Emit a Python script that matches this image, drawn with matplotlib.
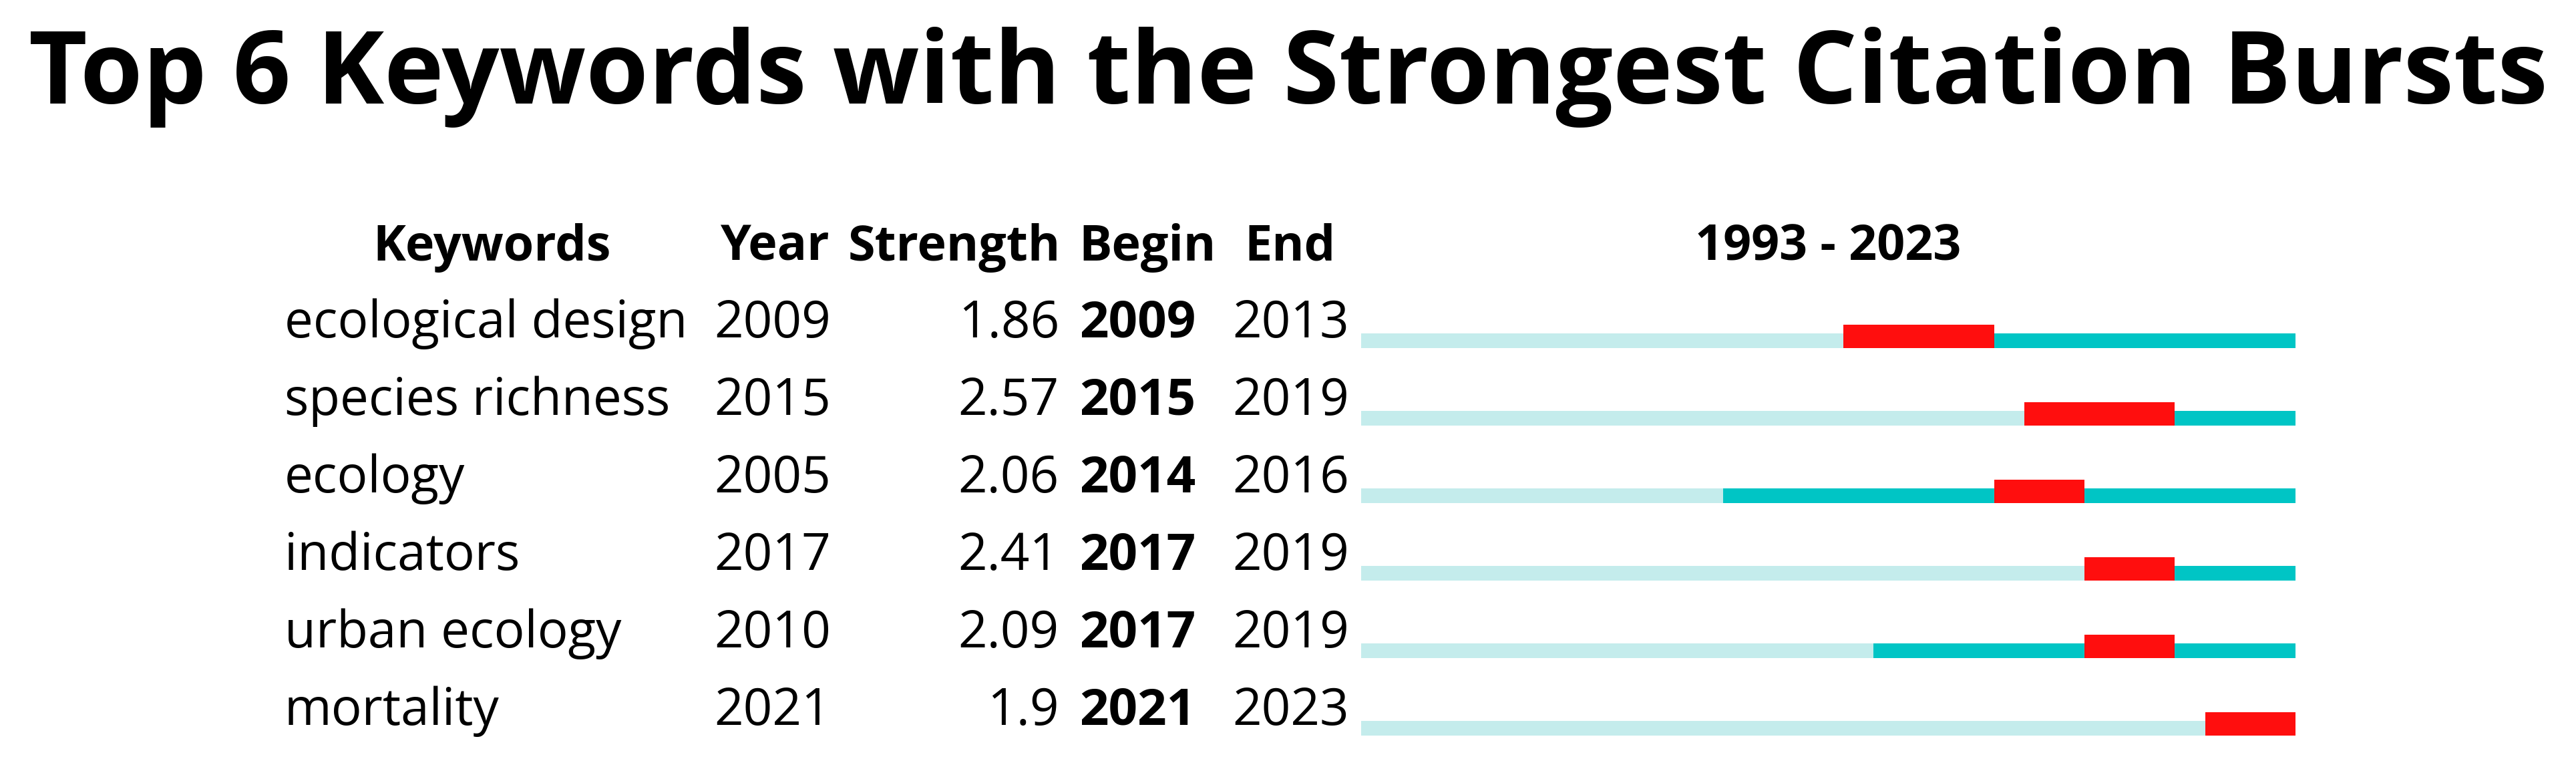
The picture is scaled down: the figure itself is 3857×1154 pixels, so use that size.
import matplotlib
matplotlib.use('Agg')
import matplotlib.pyplot as plt
from matplotlib.transforms import blended_transform_factory

plt.rcParams['font.family'] = ['Open Sans', 'Noto Sans', 'DejaVu Sans']

keywords = ['ecological design', 'species richness', 'ecology',
            'indicators', 'urban ecology', 'mortality']
year = [2009, 2015, 2005, 2017, 2010, 2021]
strength = [1.86, 2.57, 2.06, 2.41, 2.09, 1.9]
begin = [2009, 2015, 2014, 2017, 2017, 2021]
end = [2013, 2019, 2016, 2019, 2019, 2023]
start_year, end_year = 1993, 2023

W, H = 3857, 1154
fig = plt.figure(figsize=(W / 100, H / 100), dpi=100)

row_px = 116.0
bar_left, bar_right = 2038, 3437
row0_base = 521
ytop, ybot = -0.6, 5.3
ax = fig.add_axes([bar_left / W,
                   (H - (row0_base + ybot * row_px)) / H,
                   (bar_right - bar_left) / W,
                   (ybot - ytop) * row_px / H])
ax.set_xlim(start_year, end_year + 1)
ax.set_ylim(ybot, ytop)
ax.axis('off')

light = '#C4ECEC'
dark = '#00C5C5'
red = '#FF0E0E'
h_base = 22 / row_px
h_red = 35 / row_px

for i in range(len(keywords)):
    for yr in range(start_year, end_year + 1):
        if begin[i] <= yr <= end[i]:
            c, hh = red, h_red
        elif yr >= year[i]:
            c, hh = dark, h_base
        else:
            c, hh = light, h_base
        ax.barh(i - hh, 1, left=yr, height=hh, align='edge', color=c,
                linewidth=0)

# text columns
tr = blended_transform_factory(fig.transFigure, ax.transData)
fs = 55
txt_off = 0.14
for i in range(len(keywords)):
    yb = i - txt_off
    ax.text(426 / W, yb, keywords[i], transform=tr, ha='left', va='baseline',
            fontsize=fs, clip_on=False)
    ax.text(1157 / W, yb, str(year[i]), transform=tr, ha='center',
            va='baseline', fontsize=fs, clip_on=False)
    ax.text(1586 / W, yb, str(strength[i]), transform=tr, ha='right',
            va='baseline', fontsize=fs, clip_on=False)
    ax.text(1616 / W, yb, str(begin[i]), transform=tr, ha='left',
            va='baseline', fontsize=fs, fontweight='bold', clip_on=False)
    ax.text(1933 / W, yb, str(end[i]), transform=tr, ha='center',
            va='baseline', fontsize=fs, clip_on=False)

hy = -(row0_base - 390) / row_px
hfs = 53
headers = [('Keywords', 737, 'center'), ('Year', 1160, 'center'),
           ('Strength', 1588, 'right'), ('Begin', 1718, 'center'),
           ('End', 1931, 'center')]
for t, x, ha in headers:
    ax.text(x / W, hy, t, transform=tr, ha=ha, va='baseline', fontsize=hfs,
            fontweight='bold', clip_on=False)
ax.text((start_year + end_year + 1) / 2, hy, f'{start_year} - {end_year}',
        ha='center', va='baseline', fontsize=hfs, fontweight='bold',
        clip_on=False)

fig.text(0.5, 1 - 155 / H, 'Top 6 Keywords with the Strongest Citation Bursts',
         ha='center', va='baseline', fontsize=109, fontweight='bold')

fig.savefig('out.png', dpi=100, facecolor='white')
